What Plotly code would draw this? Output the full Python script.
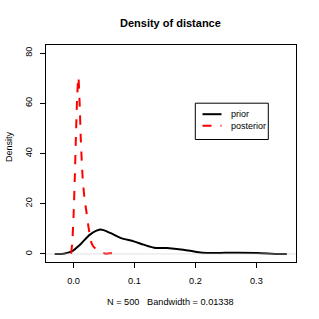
import plotly.graph_objects as go

# Prior density (black solid)
prior_x = [-0.031, -0.016, -0.003, 0.0107, 0.027, 0.044, 0.060, 0.077, 0.099, 0.115,
           0.132, 0.153, 0.180, 0.202, 0.219, 0.240, 0.263, 0.301, 0.334, 0.350]
prior_y = [0.0, 0.1, 1.0, 3.7, 7.7, 9.7, 8.4, 6.4, 5.0, 3.7,
           2.5, 2.4, 1.7, 0.8, 0.4, 0.4, 0.5, 0.4, 0.0, 0.0]

# Posterior density (red dashed)
post_x = [-0.004, -0.002, 0.0, 0.002, 0.004, 0.006, 0.008, 0.010, 0.012, 0.015,
          0.018, 0.021, 0.025, 0.030, 0.035, 0.041, 0.046, 0.052, 0.060, 0.070, 0.077]
post_y = [0.0, 5.0, 15.0, 30.0, 48.0, 63.0, 70.5, 60.0, 45.0, 30.0,
          22.0, 17.0, 10.0, 4.0, 2.4, 1.7, 0.8, 0.1, 0.3, 0.1, 0.0]

x_ticks = [0.0, 0.1, 0.2, 0.3]
x_tick_labels = ["0.0", "0.1", "0.2", "0.3"]
y_ticks = [0, 20, 40, 60, 80]

series_names = ["prior", "posterior"]
series_colors = ["black", "red"]
series_dash = ["solid", "dash"]

font = "Liberation Sans, Arial, Helvetica, sans-serif"

W, H = 319, 319
L, R, T, B = 46, 23, 45, 57
pw, ph = W - L - R, H - T - B
y_range = [-3.2, 83.2]

def px_x(px):
    return (px - L) / pw

def px_y(py):
    return (H - B - py) / ph

fig = go.Figure()
fig.add_trace(go.Scatter(x=prior_x, y=prior_y, mode="lines", name=series_names[0],
                         line=dict(color=series_colors[0], width=2, shape="spline", smoothing=0.8),
                         showlegend=False))
fig.add_trace(go.Scatter(x=post_x, y=post_y, mode="lines", name=series_names[1],
                         line=dict(color=series_colors[1], width=2, dash=series_dash[1],
                                   shape="spline", smoothing=0.6),
                         showlegend=False))

# zero line (gray)
fig.add_hline(y=0, line=dict(color="#d0d0d0", width=0.6))

# manual R-style legend
fig.add_shape(type="rect", xref="paper", yref="paper",
              x0=px_x(195.3), x1=px_x(268.3), y0=px_y(139.5), y1=px_y(103.2),
              line=dict(color="black", width=1), fillcolor="white")
for i, (nm, col, dsh) in enumerate(zip(series_names, series_colors, series_dash)):
    yy = px_y(114.2 + i * 11.5)
    fig.add_shape(type="line", xref="paper", yref="paper",
                  x0=px_x(202.5), x1=px_x(221.5), y0=yy, y1=yy,
                  line=dict(color=col, width=2, dash=dsh))
    fig.add_annotation(x=px_x(228.5), y=yy, xref="paper", yref="paper", text=nm,
                       showarrow=False, xanchor="left", yanchor="middle",
                       font=dict(size=9, family=font, color="black"))

# title and axis titles
fig.add_annotation(x=px_x(170.5), y=px_y(23.3), xref="paper", yref="paper",
                   text="<b>Density of distance</b>", showarrow=False,
                   xanchor="center", yanchor="middle", font=dict(size=11, family=font))
fig.add_annotation(x=px_x(170.7), y=px_y(301.7), xref="paper", yref="paper",
                   text="N = 500   Bandwidth = 0.01338", showarrow=False,
                   xanchor="center", yanchor="middle", font=dict(size=9.2, family=font))
fig.add_annotation(x=px_x(8.3), y=px_y(146.7), xref="paper", yref="paper",
                   text="Density", showarrow=False, textangle=-90,
                   xanchor="center", yanchor="middle", font=dict(size=9, family=font))

fig.update_layout(
    width=W, height=H,
    margin=dict(l=L, r=R, t=T, b=B),
    plot_bgcolor="white", paper_bgcolor="white",
    font=dict(family=font, size=9, color="black"),
    xaxis=dict(range=[-0.0452, 0.365], tickvals=x_ticks, ticktext=x_tick_labels,
               showgrid=False, zeroline=False, showline=True, linecolor="black",
               linewidth=1, mirror=True, ticks="outside", ticklen=5, tickcolor="black",
               ticklabelstandoff=5, tickfont=dict(size=9.2)),
    # visible ticks + box
    yaxis=dict(range=y_range, tickvals=y_ticks, showticklabels=False,
               showgrid=False, zeroline=False, showline=True, linecolor="black",
               linewidth=1, mirror=True, ticks="outside", ticklen=5, tickcolor="black"),
    # labels pushed out by transparent ticks
    yaxis2=dict(range=y_range, tickvals=y_ticks, tickangle=-90, overlaying="y",
                side="left", anchor="x", showgrid=False, zeroline=False, showline=False,
                ticks="outside", ticklen=9, tickcolor="rgba(0,0,0,0)",
                tickfont=dict(size=9.2)),
    showlegend=False,
)
# invisible trace to activate the label axis
fig.add_trace(go.Scatter(x=[prior_x[0]], y=[prior_y[0]], yaxis="y2", mode="none",
                         showlegend=False, hoverinfo="skip"))

fig.write_html("out.html", config={"displayModeBar": False},
               post_script="document.body.style.margin='0px';document.body.style.overflow='hidden';")
